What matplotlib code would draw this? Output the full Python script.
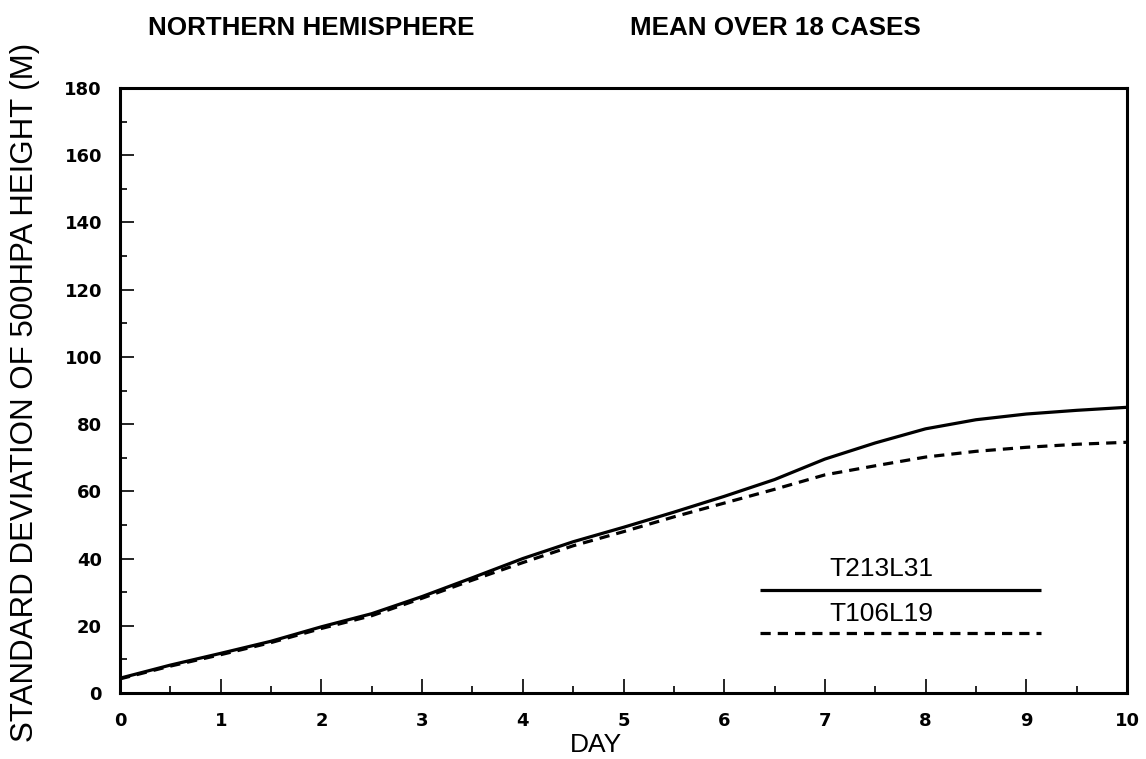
import matplotlib
matplotlib.use("Agg")
import matplotlib.pyplot as plt
from matplotlib.ticker import MultipleLocator

# Forecast day and standard deviation of 500 hPa height (m)
days = [0, 0.5, 1, 1.5, 2, 2.5, 3, 3.5, 4, 4.5, 5, 5.5, 6, 6.5, 7, 7.5, 8, 8.5, 9, 9.5, 10]
t213l31 = [4.4, 8.3, 11.8, 15.4, 19.7, 23.6, 28.7, 34.3, 40.0, 45.0, 49.3, 53.8, 58.5,
           63.5, 69.6, 74.4, 78.6, 81.3, 83.0, 84.1, 85.0]
t106l19 = [4.2, 8.0, 11.4, 15.0, 19.2, 23.0, 28.2, 33.6, 38.8, 43.8, 48.0, 52.4, 56.5,
           60.6, 64.9, 67.6, 70.2, 71.9, 73.1, 74.0, 74.6]

x_ticks = list(range(0, 11))
y_ticks = list(range(0, 181, 20))

W, H = 1146, 759
fig = plt.figure(figsize=(W / 100, H / 100), dpi=100)
left, right, bottom, top = 120, 1127, 693, 88
ax = fig.add_axes([left / W, 1 - bottom / H, (right - left) / W, (bottom - top) / H])

lw = 2.3
ax.plot(days, t213l31, color="black", lw=lw, solid_capstyle="butt")
ax.plot(days, t106l19, color="black", lw=lw, linestyle=(0, (3.2, 2.2)))

ax.set_xlim(0, 10)
ax.set_ylim(0, 180)
ax.set_xticks(x_ticks)
ax.set_yticks(y_ticks)
ax.xaxis.set_minor_locator(MultipleLocator(0.5))
ax.yaxis.set_minor_locator(MultipleLocator(10))
ax.tick_params(which="both", direction="in", width=1.2, top=False, right=False)
ax.tick_params(which="major", length=10)
ax.tick_params(which="minor", length=5)
ax.tick_params(axis="y", which="major", pad=13)
ax.tick_params(axis="x", which="major", pad=14)
for lab in ax.get_xticklabels() + ax.get_yticklabels():
    lab.set_fontfamily("DejaVu Sans")
    lab.set_fontweight("bold")
    lab.set_fontsize(13)

for sp in ax.spines.values():
    sp.set_linewidth(2.2)

# Legend drawn inside the axes
lx0, lx1 = 6.36, 9.15
ax.plot([lx0, lx1], [30.7, 30.7], color="black", lw=lw, solid_capstyle="butt")
ax.plot([lx0, lx1], [17.9, 17.9], color="black", lw=lw, linestyle=(0, (3.2, 2.2)))
legfont = dict(family="Liberation Sans", fontsize=19, ha="center", va="center")
ax.text(7.56, 37.0, "T213L31", **legfont)
ax.text(7.56, 23.4, "T106L19", **legfont)

title_font = dict(family="Liberation Sans", fontweight="bold", fontsize=18.7)
fig.text(148 / W, 1 - 28 / H, "NORTHERN HEMISPHERE", ha="left", va="center", **title_font)
fig.text(630 / W, 1 - 28 / H, "MEAN OVER 18 CASES", ha="left", va="center", **title_font)
fig.text(596 / W, 1 - 745 / H, "DAY", ha="center", va="center", family="Liberation Sans", fontsize=19)
fig.text(25 / W, 1 - 392 / H, "STANDARD DEVIATION OF 500HPA HEIGHT (M)", rotation=90,
         ha="center", va="center", family="Liberation Sans", fontsize=22.5)

fig.savefig("out.png", dpi=100, facecolor="white")
